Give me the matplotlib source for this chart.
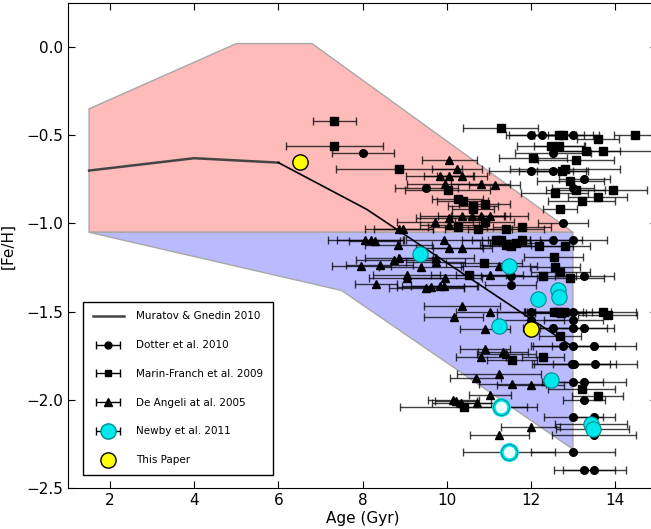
import matplotlib
matplotlib.use("Agg")
import matplotlib.pyplot as plt
from matplotlib.container import ErrorbarContainer
from matplotlib.legend_handler import HandlerErrorbar

# Muratov & Gnedin (2010) model track and its spread
mg_age = [1.5, 4.0, 6.0, 8.1, 13.0]
mg_feh = [-0.70, -0.63, -0.655, -0.92, -1.70]

upper_age = [1.5, 1.5, 5.0, 6.8, 13.0]
upper_feh = [-1.05, -0.35, 0.02, 0.02, -1.05]
lower_age = [1.5, 13.0, 13.0, 7.5]
lower_feh = [-1.05, -1.05, -2.28, -1.38]

# Dotter et al. 2010
dot_age = [8.01, 12.00, 12.27, 13.01, 12.52, 9.52, 12.00, 12.52, 13.27, 13.01, 12.76,
           12.52, 13.01, 11.52, 11.52, 13.27, 12.00, 13.01, 12.00, 13.01,
           12.52, 13.01, 13.27, 12.76, 13.01, 13.51, 12.97, 13.02, 13.52,
           13.01, 13.27, 13.27, 13.01, 13.51, 13.51, 13.01, 13.27, 13.51]
dot_feh = [-0.60, -0.50, -0.50, -0.50, -0.60, -0.80, -0.70, -0.70, -0.75, -0.80, -1.00,
           -1.095, -1.095, -1.30, -1.35, -1.30, -1.50, -1.50, -1.545, -1.545,
           -1.595, -1.595, -1.595, -1.695, -1.695, -1.695, -1.795, -1.795, -1.795,
           -1.898, -1.898, -2.00, -2.096, -2.096, -2.20, -2.298, -2.398, -2.398]
dot_err = [0.74, 0.60, 0.80, 0.60, 0.90, 0.75, 1.00, 0.80, 0.60, 0.50, 0.60,
           0.70, 0.80, 0.70, 0.60, 0.70, 0.80, 0.90, 0.80, 0.70,
           0.70, 0.80, 0.70, 0.70, 1.00, 1.00, 0.90, 1.00, 1.00,
           0.70, 1.00, 0.50, 0.70, 0.50, 1.00, 1.00, 0.73, 0.75]

# Marin-Franch et al. 2009
mf_age = [7.33, 7.33, 8.87, 11.28, 12.67, 12.77, 14.47, 13.59, 12.48, 12.67,
          13.31, 13.71, 12.05, 13.07, 12.75, 12.81, 12.94, 12.57, 13.07, 13.95,
          13.21, 13.59, 12.69, 10.02, 10.26, 10.38, 10.63, 10.90, 10.63, 10.90,
          10.26, 10.75, 11.41, 11.79, 11.17, 11.29, 11.40, 11.54, 11.64, 11.78,
          12.20, 12.81, 12.54, 10.89, 12.57, 12.70, 12.28, 12.94, 10.52,
          12.55, 12.65, 12.71, 12.80, 13.71, 13.83, 12.69, 11.55, 12.30,
          13.21, 13.59, 10.40]
mf_feh = [-0.42, -0.56, -0.69, -0.46, -0.50, -0.50, -0.50, -0.52, -0.56, -0.56,
          -0.59, -0.59, -0.63, -0.64, -0.70, -0.69, -0.76, -0.83, -0.81, -0.81,
          -0.87, -0.85, -0.92, -0.81, -0.86, -0.87, -0.90, -0.89, -0.92, -0.99,
          -1.02, -1.03, -1.03, -1.02, -1.095, -1.095, -1.12, -1.13, -1.11, -1.095,
          -1.13, -1.13, -1.19, -1.225, -1.245, -1.273, -1.30, -1.31, -1.29,
          -1.50, -1.50, -1.51, -1.50, -1.50, -1.52, -1.64, -1.775, -1.76,
          -1.94, -1.98, -2.04]
mf_err = [0.51, 1.15, 1.50, 0.90, 0.60, 0.70, 0.50, 0.50, 0.80, 0.60,
          0.80, 1.20, 0.80, 0.90, 0.60, 1.30, 0.80, 0.80, 0.70, 0.80,
          0.80, 0.70, 0.40, 1.00, 0.60, 0.60, 0.60, 0.60, 0.50, 0.70,
          0.70, 0.80, 0.90, 0.70, 0.80, 0.70, 0.60, 0.70, 0.60, 0.80,
          0.80, 0.60, 0.70, 0.90, 0.60, 0.70, 0.80, 0.80, 0.90,
          0.70, 0.80, 0.60, 0.90, 0.80, 0.70, 0.50, 0.60, 0.50,
          0.80, 0.60, 1.50]

# De Angeli et al. 2005
da_age = [10.06, 10.25, 9.83, 10.06, 10.36, 9.95, 10.81, 11.14, 9.72, 10.06,
          10.06, 10.36, 10.59, 10.81, 11.03, 8.87, 8.97, 8.07, 8.19, 8.29,
          8.85, 9.94, 10.06, 10.37, 8.75, 8.87, 9.74, 9.74, 9.38, 8.41,
          7.97, 9.05, 9.05, 8.31, 9.95, 9.52, 9.62, 9.83, 9.94, 11.25,
          11.02, 10.36, 11.03, 10.17, 10.91, 10.91, 11.34, 11.42, 10.81, 11.25,
          10.69, 11.56, 12.00, 10.16, 10.23, 10.35, 10.71, 11.03, 12.00, 11.25]
da_feh = [-0.64, -0.69, -0.73, -0.73, -0.73, -0.775, -0.775, -0.78, -0.99, -0.97,
          -1.01, -0.955, -0.955, -0.955, -0.955, -1.03, -1.03, -1.094, -1.094, -1.10,
          -1.12, -1.094, -1.137, -1.137, -1.207, -1.198, -1.198, -1.221, -1.249, -1.238,
          -1.24, -1.311, -1.292, -1.343, -1.311, -1.364, -1.359, -1.353, -1.353, -1.24,
          -1.29, -1.47, -1.50, -1.53, -1.60, -1.71, -1.73, -1.74, -1.76, -1.855,
          -1.875, -1.91, -1.918, -2.00, -2.005, -2.02, -2.02, -1.975, -2.156, -2.20]
da_err = [0.65, 0.60, 0.80, 0.60, 0.60, 0.90, 0.70, 0.60, 0.90, 0.80,
          0.70, 1.00, 0.80, 0.70, 0.90, 0.80, 0.70, 0.90, 0.80, 0.60,
          0.80, 0.90, 0.80, 0.70, 0.90, 0.80, 0.90, 0.70, 1.00, 0.80,
          0.70, 0.90, 0.80, 0.50, 0.90, 0.90, 0.80, 0.90, 0.80, 0.90,
          0.80, 0.90, 0.80, 0.70, 0.60, 0.60, 0.60, 0.70, 0.60, 1.00,
          0.60, 0.80, 0.80, 0.60, 0.50, 0.70, 0.50, 0.50, 0.70, 0.70]

# Newby et al. 2011
nb_age = [9.37, 11.48, 12.65, 12.67, 12.18, 11.25, 12.48, 13.43, 13.47]
nb_feh = [-1.173, -1.24, -1.378, -1.419, -1.429, -1.582, -1.888, -2.137, -2.167]
nb_err = [0.0, 0.0, 0.0, 0.0, 0.0, 0.0, 0.0, 0.86, 0.86]
nb_open_age = [11.29, 11.48]
nb_open_feh = [-2.039, -2.298]
nb_open_err = [0.85, 1.09]

# This paper
tp_age = [6.52, 12.01]
tp_feh = [-0.654, -1.597]

CYAN = "#00e8ee"
CYAN_EDGE = "#008a8a"

fig = plt.figure(figsize=(6.51, 5.29), dpi=100)
ax = fig.add_axes([0.1045, 0.0775, 0.9048, 0.9168])

ax.fill(upper_age, upper_feh, facecolor="#ffbaba", edgecolor="#a8a8a8", lw=1, zorder=1)
ax.fill(lower_age, lower_feh, facecolor="#babaff", edgecolor="#a8a8a8", lw=1, zorder=1)

line_h, = ax.plot(mg_age[:3], mg_feh[:3], color="#444444", lw=1.8, zorder=4)
ax.plot(mg_age[2:], mg_feh[2:], color="black", lw=1.2, zorder=4)

eb = dict(fmt="none", ecolor="black", elinewidth=1, capsize=3, capthick=1, alpha=0.75, zorder=2)
ax.errorbar(dot_age, dot_feh, xerr=dot_err, **eb)
ax.errorbar(mf_age, mf_feh, xerr=mf_err, **eb)
ax.errorbar(da_age, da_feh, xerr=da_err, **eb)
ax.errorbar(nb_age, nb_feh, xerr=nb_err, **eb)
ax.errorbar(nb_open_age, nb_open_feh, xerr=nb_open_err, **eb)

ax.plot(dot_age, dot_feh, "o", color="black", ms=5.5, zorder=3)
ax.plot(mf_age, mf_feh, "s", color="black", ms=5.5, zorder=3)
ax.plot(da_age, da_feh, "^", color="black", ms=6, zorder=3)
ax.plot(nb_age, nb_feh, "o", mfc=CYAN, mec=CYAN_EDGE, mew=0.8, ms=11, zorder=5)
ax.plot(nb_open_age, nb_open_feh, "o", mfc="#eaffff", mec="#00dde5", mew=2.6, ms=11, zorder=5)
ax.plot(nb_open_age, nb_open_feh, "o", mfc="none", mec=CYAN_EDGE, mew=0.6, ms=11.5, zorder=5)
ax.plot(tp_age, tp_feh, "o", mfc="#ffff00", mec="black", mew=1, ms=11, zorder=6)

# legend handles (errorbar containers placed outside the visible range)
off = dict(xerr=[0.5], capsize=3, elinewidth=1, capthick=1, ecolor="black")
h_dot = ax.errorbar([-10], [-10], fmt="o", color="black", ms=5, **off)
h_mf = ax.errorbar([-10], [-10], fmt="s", color="black", ms=5, **off)
h_da = ax.errorbar([-10], [-10], fmt="^", color="black", ms=5.5, **off)
h_nb = ax.errorbar([-10], [-10], fmt="o", mfc=CYAN, mec=CYAN_EDGE, ms=11, **off)
h_tp, = ax.plot([-10], [-10], "o", mfc="#ffff00", mec="black", ms=11)
leg = ax.legend([line_h, h_dot, h_mf, h_da, h_nb, h_tp],
                ["Muratov & Gnedin 2010", "Dotter et al. 2010", "Marin-Franch et al. 2009",
                 "De Angeli at al. 2005", "Newby et al. 2011", "This Paper"],
                handler_map={ErrorbarContainer: HandlerErrorbar(xerr_size=1.15)},
                loc="lower left", bbox_to_anchor=(0.017, 0.017), fontsize=7.5,
                labelspacing=1.8, handlelength=3.0, handletextpad=1.2,
                borderpad=0.9, fancybox=False, framealpha=1, numpoints=1)
leg.get_frame().set_edgecolor("black")
leg.get_frame().set_linewidth(1)
leg.set_zorder(10)

ax.set_xlim(1, 15)
ax.set_ylim(-2.5, 0.25)
ax.set_xticks([2, 4, 6, 8, 10, 12, 14])
ax.set_yticks([0.0, -0.5, -1.0, -1.5, -2.0, -2.5])
ax.tick_params(direction="in", top=True, right=True, length=5, labelsize=11)
ax.set_xlabel("Age (Gyr)", fontsize=11, labelpad=2)
ax.set_ylabel("[Fe/H]", fontsize=11, labelpad=8)

fig.savefig("out.png", dpi=100)
